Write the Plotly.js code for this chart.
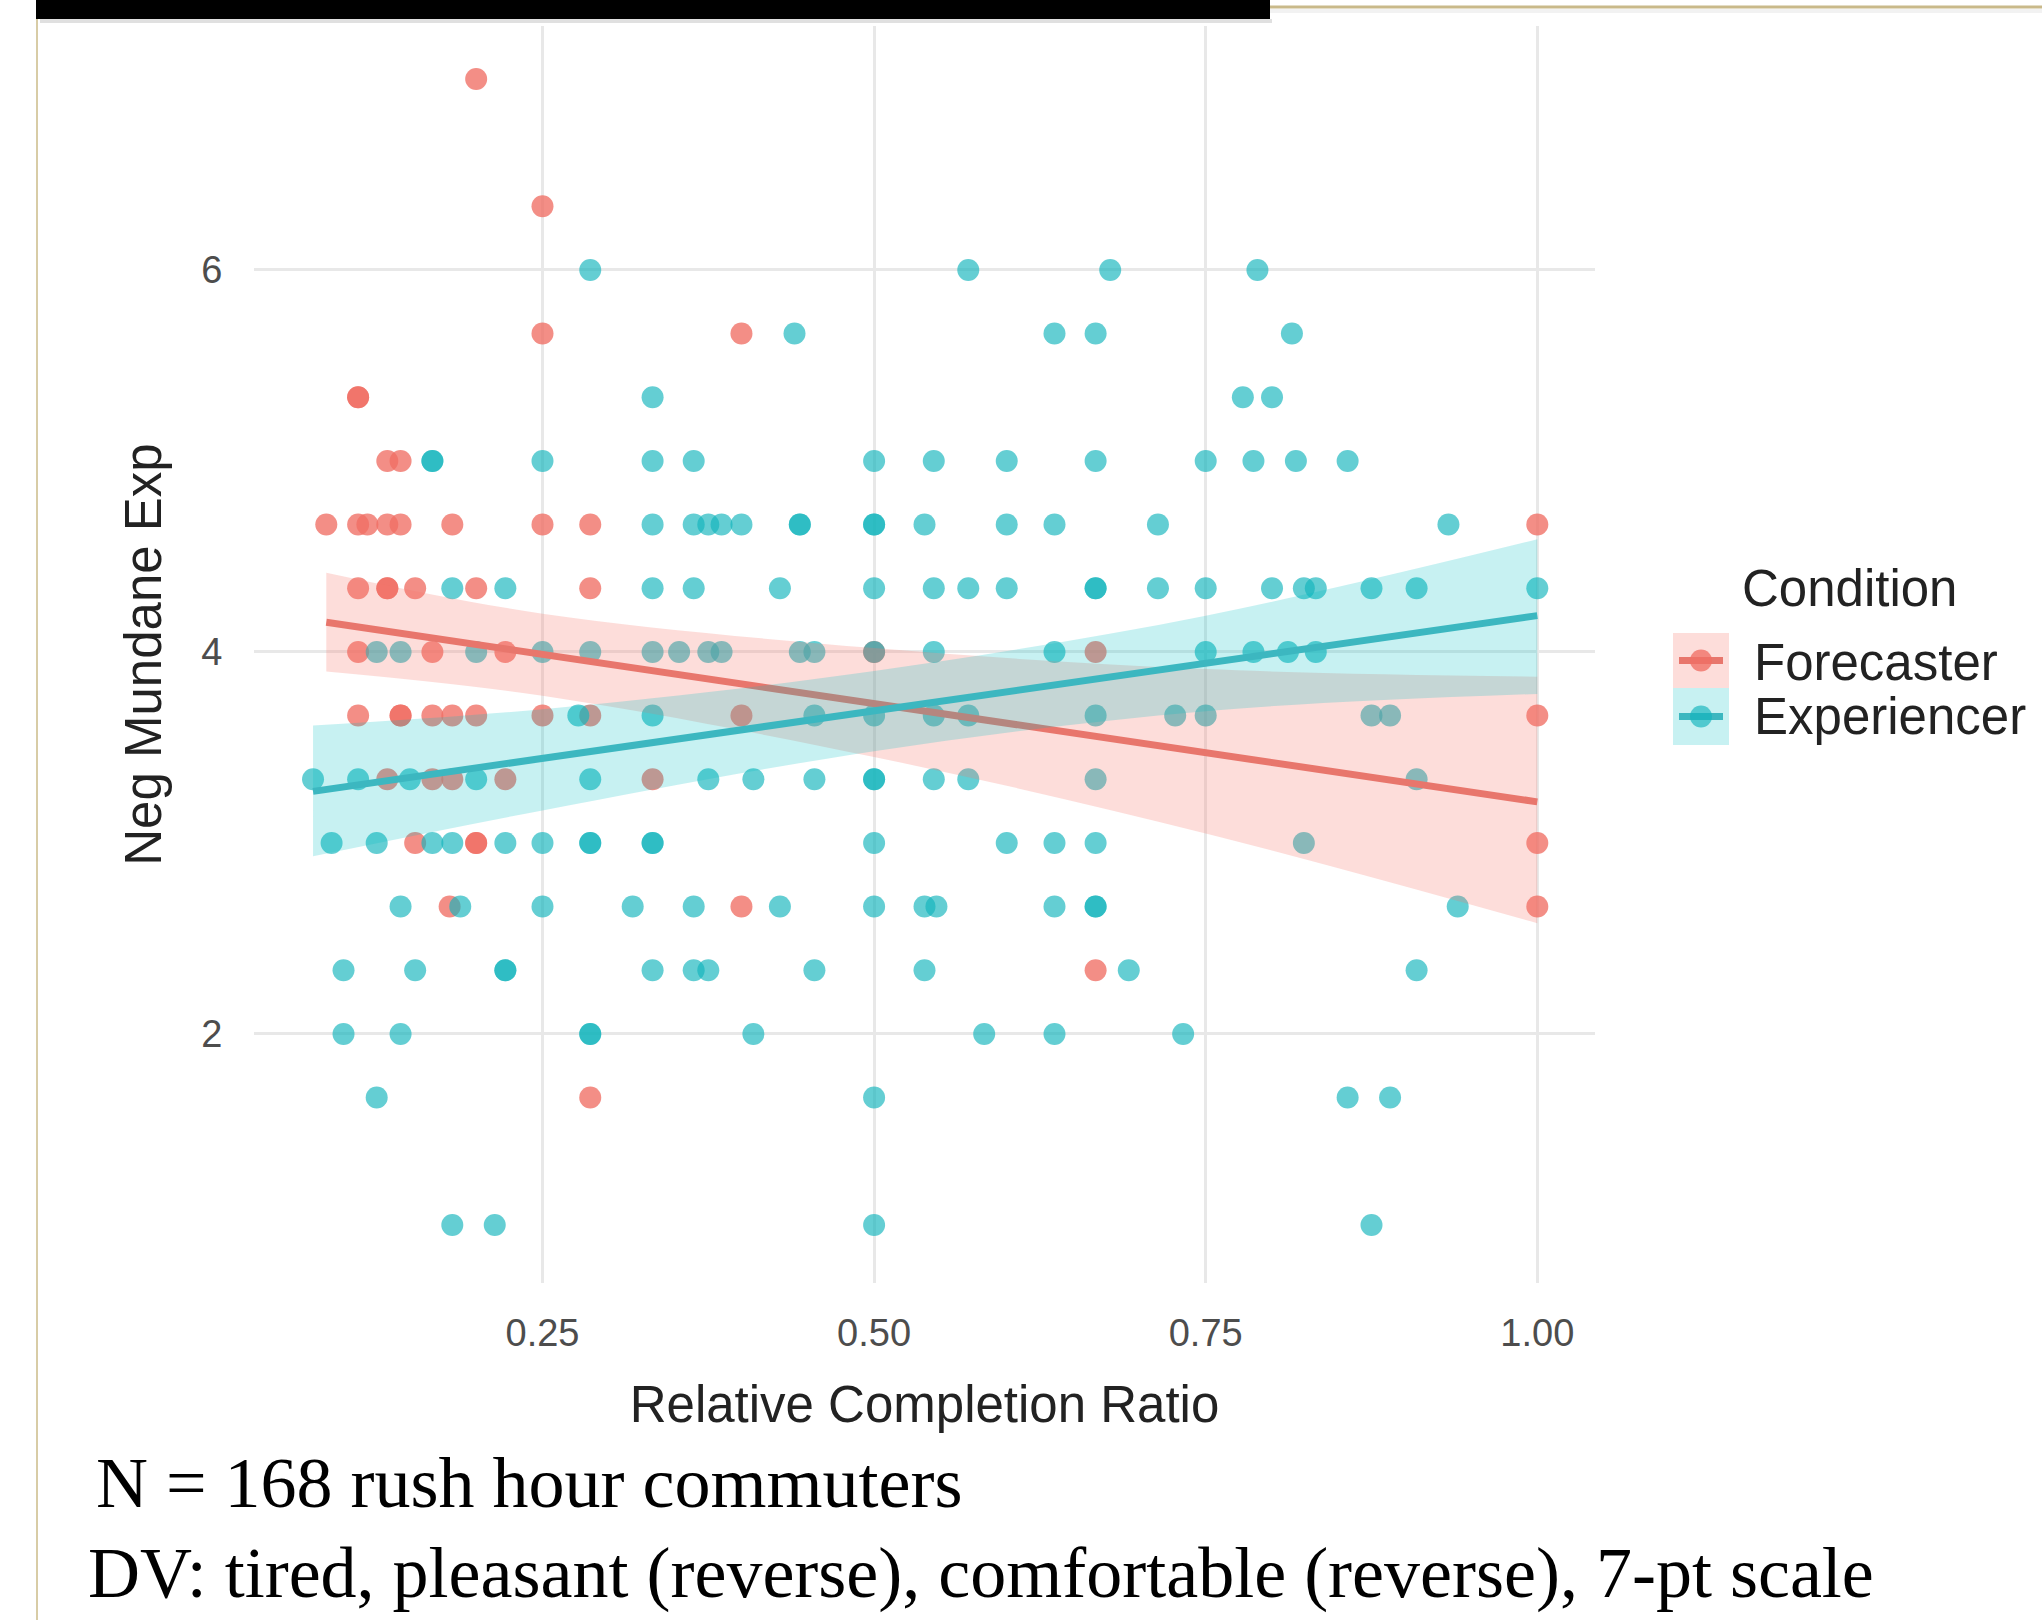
<!DOCTYPE html>
<html>
<head>
<meta charset="utf-8">
<script src="https://cdn.plot.ly/plotly-3.0.1.min.js"></script>
<style>
html,body{margin:0;padding:0;background:#fff;}
#chart{width:2042px;height:1620px;}
</style>
</head>
<body>
<div id="chart"></div>
<script>
// ---------- data ----------
const conditions = ['Forecaster', 'Experiencer'];

const forecasterRatio = [
  0.2,
  0.25,
  0.25, 0.4,
  0.111, 0.111,
  0.133, 0.143,
  0.087, 0.111, 0.118, 0.133, 0.143, 0.182, 0.25, 0.286, 1.0,
  0.111, 0.133, 0.133, 0.154, 0.2, 0.286,
  0.111, 0.167, 0.222, 0.5, 0.667,
  0.111, 0.143, 0.143, 0.167, 0.182, 0.2, 0.25, 0.286, 0.4, 1.0,
  0.133, 0.167, 0.182, 0.222, 0.333,
  0.154, 0.2, 0.2, 1.0,
  0.18, 0.4, 1.0,
  0.667,
  0.286
];
const forecasterNeg = [
  7,
  6.333,
  5.667, 5.667,
  5.333, 5.333,
  5, 5,
  4.667, 4.667, 4.667, 4.667, 4.667, 4.667, 4.667, 4.667, 4.667,
  4.333, 4.333, 4.333, 4.333, 4.333, 4.333,
  4, 4, 4, 4, 4,
  3.667, 3.667, 3.667, 3.667, 3.667, 3.667, 3.667, 3.667, 3.667, 3.667,
  3.333, 3.333, 3.333, 3.333, 3.333,
  3, 3, 3, 3,
  2.667, 2.667, 2.667,
  2.333,
  1.667
];

const experiencerRatio = [
  0.286, 0.571, 0.678, 0.789,
  0.44, 0.636, 0.667, 0.815,
  0.333, 0.778, 0.8,
  0.167, 0.167, 0.25, 0.333, 0.364, 0.5, 0.545, 0.6, 0.667, 0.75, 0.786, 0.818, 0.857,
  0.333, 0.364, 0.375, 0.385, 0.4, 0.444, 0.444, 0.5, 0.5, 0.538, 0.6, 0.636, 0.714, 0.933,
  0.182, 0.222, 0.333, 0.364, 0.429, 0.5, 0.545, 0.571, 0.6, 0.667, 0.667, 0.714, 0.75, 0.8, 0.824, 0.833, 0.875, 0.909, 1.0,
  0.125, 0.143, 0.2, 0.25, 0.286, 0.333, 0.353, 0.375, 0.385, 0.444, 0.455, 0.5, 0.545, 0.636, 0.75, 0.786, 0.812, 0.833,
  0.277, 0.333, 0.455, 0.5, 0.545, 0.571, 0.667, 0.727, 0.75, 0.875, 0.889,
  0.077, 0.111, 0.15, 0.2, 0.286, 0.375, 0.409, 0.455, 0.5, 0.5, 0.545, 0.571, 0.667, 0.909,
  0.091, 0.125, 0.167, 0.182, 0.222, 0.25, 0.286, 0.286, 0.333, 0.333, 0.5, 0.6, 0.636, 0.667, 0.824,
  0.143, 0.188, 0.25, 0.318, 0.364, 0.429, 0.5, 0.538, 0.547, 0.636, 0.667, 0.667, 0.94,
  0.1, 0.154, 0.222, 0.222, 0.333, 0.364, 0.375, 0.455, 0.538, 0.692, 0.909,
  0.1, 0.143, 0.286, 0.286, 0.409, 0.583, 0.636, 0.733,
  0.125, 0.5, 0.857, 0.889,
  0.182, 0.214, 0.5, 0.875
];
const experiencerNeg = [
  6, 6, 6, 6,
  5.667, 5.667, 5.667, 5.667,
  5.333, 5.333, 5.333,
  5, 5, 5, 5, 5, 5, 5, 5, 5, 5, 5, 5, 5,
  4.667, 4.667, 4.667, 4.667, 4.667, 4.667, 4.667, 4.667, 4.667, 4.667, 4.667, 4.667, 4.667, 4.667,
  4.333, 4.333, 4.333, 4.333, 4.333, 4.333, 4.333, 4.333, 4.333, 4.333, 4.333, 4.333, 4.333, 4.333, 4.333, 4.333, 4.333, 4.333, 4.333,
  4, 4, 4, 4, 4, 4, 4, 4, 4, 4, 4, 4, 4, 4, 4, 4, 4, 4,
  3.667, 3.667, 3.667, 3.667, 3.667, 3.667, 3.667, 3.667, 3.667, 3.667, 3.667,
  3.333, 3.333, 3.333, 3.333, 3.333, 3.333, 3.333, 3.333, 3.333, 3.333, 3.333, 3.333, 3.333, 3.333,
  3, 3, 3, 3, 3, 3, 3, 3, 3, 3, 3, 3, 3, 3, 3,
  2.667, 2.667, 2.667, 2.667, 2.667, 2.667, 2.667, 2.667, 2.667, 2.667, 2.667, 2.667, 2.667,
  2.333, 2.333, 2.333, 2.333, 2.333, 2.333, 2.333, 2.333, 2.333, 2.333, 2.333,
  2, 2, 2, 2, 2, 2, 2, 2,
  1.667, 1.667, 1.667, 1.667,
  1, 1, 1, 1
];

// fitted lines and confidence bands
const forecasterFitRatio = [0.087, 1.0];
const forecasterFitNeg = [4.155, 3.215];
const experiencerFitRatio = [0.077, 1.0];
const experiencerFitNeg = [3.27, 4.19];

const forecasterBandRatio = [0.087, 0.25, 0.5, 0.75, 1.0];
const forecasterBandUpper = [4.415, 4.20, 4.02, 3.91, 3.87];
const forecasterBandLower = [3.897, 3.77, 3.45, 3.05, 2.58];
const experiencerBandRatio = [0.077, 0.25, 0.5, 0.75, 1.0];
const experiencerBandUpper = [3.615, 3.70, 3.90, 4.19, 4.59];
const experiencerBandLower = [2.93, 3.17, 3.48, 3.69, 3.78];

const xTickVals = [0.25, 0.5, 0.75, 1.0];
const xTickText = ['0.25', '0.50', '0.75', '1.00'];
const yTickVals = [2, 4, 6];
const yTickText = ['2', '4', '6'];

const captionLines = [
  'N = 168 rush hour commuters',
  'DV: tired, pleasant (reverse), comfortable (reverse), 7-pt scale'
];

// ---------- styling ----------
const SANS = 'Liberation Sans, Arial, Helvetica, sans-serif';
const SERIF = 'Liberation Serif, Times New Roman, serif';
const RED_PT = 'rgba(240,110,100,0.78)';
const TEAL_PT = 'rgba(20,180,188,0.66)';
const RED_LINE = 'rgb(232,118,108)';
const TEAL_LINE = 'rgb(60,183,192)';
const RED_FILL = 'rgba(248,118,109,0.25)';
const TEAL_FILL = 'rgba(0,191,196,0.22)';

// plot area in pixels
const L = 254, R = 1595, T = 26, B = 1283;
const px = v => (v - L) / (R - L);
const py = v => (B - v) / (B - T);

const traces = [
  {x: forecasterRatio, y: forecasterNeg, type: 'scatter', mode: 'markers', name: conditions[0],
   marker: {size: 22, color: RED_PT, line: {width: 0}}, showlegend: false, hoverinfo: 'x+y'},
  {x: experiencerRatio, y: experiencerNeg, type: 'scatter', mode: 'markers', name: conditions[1],
   marker: {size: 22, color: TEAL_PT, line: {width: 0}}, showlegend: false, hoverinfo: 'x+y'},
  // forecaster band + line
  {x: forecasterBandRatio, y: forecasterBandLower, type: 'scatter', mode: 'lines',
   line: {width: 0, shape: 'spline', color: 'rgba(0,0,0,0)'}, showlegend: false, hoverinfo: 'skip'},
  {x: forecasterBandRatio, y: forecasterBandUpper, type: 'scatter', mode: 'lines', fill: 'tonexty',
   fillcolor: RED_FILL, line: {width: 0, shape: 'spline', color: 'rgba(0,0,0,0)'}, showlegend: false, hoverinfo: 'skip'},
  {x: forecasterFitRatio, y: forecasterFitNeg, type: 'scatter', mode: 'lines',
   line: {width: 7, color: RED_LINE}, showlegend: false, hoverinfo: 'skip'},
  // experiencer band + line
  {x: experiencerBandRatio, y: experiencerBandLower, type: 'scatter', mode: 'lines',
   line: {width: 0, shape: 'spline', color: 'rgba(0,0,0,0)'}, showlegend: false, hoverinfo: 'skip'},
  {x: experiencerBandRatio, y: experiencerBandUpper, type: 'scatter', mode: 'lines', fill: 'tonexty',
   fillcolor: TEAL_FILL, line: {width: 0, shape: 'spline', color: 'rgba(0,0,0,0)'}, showlegend: false, hoverinfo: 'skip'},
  {x: experiencerFitRatio, y: experiencerFitNeg, type: 'scatter', mode: 'lines',
   line: {width: 7, color: TEAL_LINE}, showlegend: false, hoverinfo: 'skip'}
];

// ---------- custom legend + slide frame ----------
const shapes = [
  // slide frame pieces
  {type: 'rect', xref: 'paper', yref: 'paper', x0: px(36), x1: px(1270), y0: py(0), y1: py(19),
   fillcolor: '#000', line: {width: 0}, layer: 'above'},
  {type: 'rect', xref: 'paper', yref: 'paper', x0: px(40), x1: px(1272), y0: py(19), y1: py(23),
   fillcolor: 'rgba(0,0,0,0.12)', line: {width: 0}, layer: 'above'},
  {type: 'line', xref: 'paper', yref: 'paper', x0: px(1270), x1: px(2042), y0: py(7), y1: py(7),
   line: {color: '#c9b98a', width: 3}, layer: 'above'},
  {type: 'rect', xref: 'paper', yref: 'paper', x0: px(1270), x1: px(2042), y0: py(9), y1: py(13),
   fillcolor: 'rgba(0,0,0,0.05)', line: {width: 0}, layer: 'above'},
  {type: 'line', xref: 'paper', yref: 'paper', x0: px(37), x1: px(37), y0: py(19), y1: py(1620),
   line: {color: '#d8cca6', width: 2}, layer: 'above'},
  // legend keys
  {type: 'rect', xref: 'paper', yref: 'paper', x0: px(1673), x1: px(1729), y0: py(633), y1: py(688),
   fillcolor: RED_FILL, line: {width: 0}},
  {type: 'rect', xref: 'paper', yref: 'paper', x0: px(1673), x1: px(1729), y0: py(688), y1: py(745),
   fillcolor: TEAL_FILL, line: {width: 0}},
  {type: 'line', xref: 'paper', yref: 'paper', x0: px(1679), x1: px(1723), y0: py(660.5), y1: py(660.5),
   line: {color: RED_LINE, width: 7}},
  {type: 'line', xref: 'paper', yref: 'paper', x0: px(1679), x1: px(1723), y0: py(716.5), y1: py(716.5),
   line: {color: TEAL_LINE, width: 7}},
  {type: 'circle', xref: 'paper', yref: 'paper', x0: px(1690), x1: px(1712), y0: py(649.5), y1: py(671.5),
   fillcolor: RED_PT, line: {width: 0}},
  {type: 'circle', xref: 'paper', yref: 'paper', x0: px(1690), x1: px(1712), y0: py(705.5), y1: py(727.5),
   fillcolor: TEAL_PT, line: {width: 0}}
];

const annotations = [
  {xref: 'paper', yref: 'paper', x: px(1740), y: py(588), xanchor: 'left', yanchor: 'middle',
   text: 'Condition', showarrow: false, font: {family: SANS, size: 51, color: '#222'}},
  {xref: 'paper', yref: 'paper', x: px(1752), y: py(662), xanchor: 'left', yanchor: 'middle',
   text: conditions[0], showarrow: false, font: {family: SANS, size: 51, color: '#222'}},
  {xref: 'paper', yref: 'paper', x: px(1752), y: py(716), xanchor: 'left', yanchor: 'middle',
   text: conditions[1], showarrow: false, font: {family: SANS, size: 51, color: '#222'}},
  {xref: 'paper', yref: 'paper', x: px(94), y: py(1483), xanchor: 'left', yanchor: 'middle',
   text: captionLines[0], showarrow: false, font: {family: SERIF, size: 72, color: '#000'}},
  {xref: 'paper', yref: 'paper', x: px(86), y: py(1573), xanchor: 'left', yanchor: 'middle',
   text: captionLines[1], showarrow: false, font: {family: SERIF, size: 72, color: '#000'}}
];

const layout = {
  width: 2042, height: 1620,
  margin: {l: L, r: 2042 - R, t: T, b: 1620 - B, pad: 0},
  paper_bgcolor: '#fff', plot_bgcolor: '#fff',
  showlegend: false,
  font: {family: SANS, color: '#222'},
  xaxis: {
    range: [0.0325, 1.0435], tickvals: xTickVals, ticktext: xTickText,
    showgrid: true, gridcolor: '#e8e8e8', gridwidth: 3, zeroline: false, showline: false,
    ticks: 'outside', ticklen: 16, tickcolor: 'rgba(0,0,0,0)',
    tickfont: {family: SANS, size: 38, color: '#4d4d4d'},
    title: {text: 'Relative Completion Ratio', font: {family: SANS, size: 51, color: '#222'}, standoff: 33}
  },
  yaxis: {
    range: [0.696, 7.277], tickvals: yTickVals, ticktext: yTickText,
    showgrid: true, gridcolor: '#e8e8e8', gridwidth: 3, zeroline: false, showline: false,
    ticks: 'outside', ticklen: 23, tickcolor: 'rgba(0,0,0,0)',
    tickfont: {family: SANS, size: 38, color: '#4d4d4d'},
    title: {text: 'Neg Mundane Exp', font: {family: SANS, size: 51, color: '#222'}, standoff: 23}
  },
  shapes: shapes,
  annotations: annotations
};

Plotly.newPlot('chart', traces, layout, {displayModeBar: false, staticPlot: true});
</script>
</body>
</html>
